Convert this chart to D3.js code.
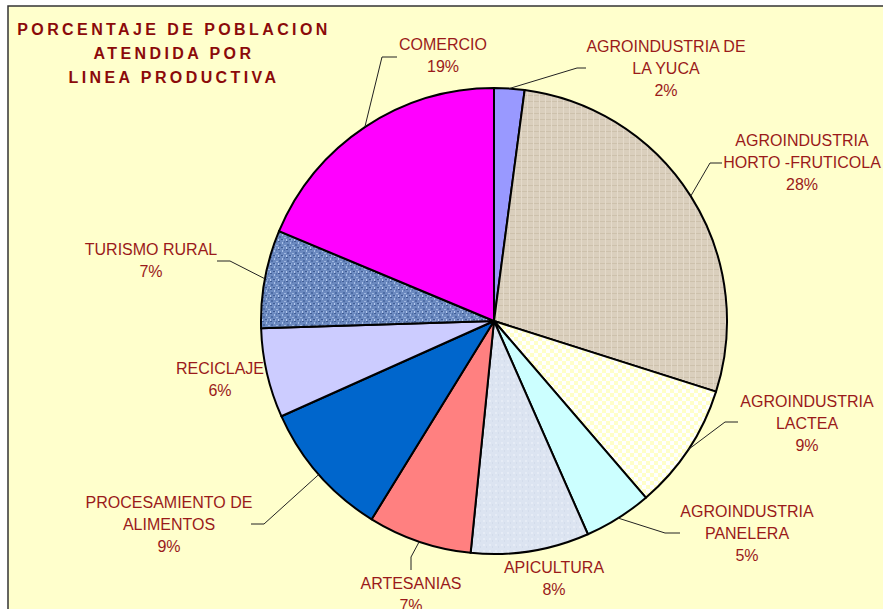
<!DOCTYPE html>
<html>
<head>
<meta http-equiv="Content-Type" content="text/html; charset=UTF-8">
<style>
body { margin: 0; background: #fff; }
svg text { font-family: "Liberation Sans", Arial, sans-serif; }
</style>
</head>
<body>
<div class="container"></div>
<script src="https://cdn.jsdelivr.net/npm/d3@7"></script>
<script>

var width = 883;
var height = 609;

// chart data (clockwise from 12 o'clock)
var categories = [
    ["AGROINDUSTRIA DE", "LA YUCA"],
    ["AGROINDUSTRIA", "HORTO -FRUTICOLA"],
    ["AGROINDUSTRIA", "LACTEA"],
    ["AGROINDUSTRIA", "PANELERA"],
    ["APICULTURA"],
    ["ARTESANIAS"],
    ["PROCESAMIENTO DE", "ALIMENTOS"],
    ["RECICLAJE"],
    ["TURISMO RURAL"],
    ["COMERCIO"]
];
var values = [2.1, 27.8, 8.8, 4.7, 8.2, 7.2, 9.5, 6.2, 6.8, 18.7];
var percentLabels = ["2%", "28%", "9%", "5%", "8%", "7%", "9%", "6%", "7%", "19%"];
var titleLines = ["PORCENTAJE DE POBLACION", "ATENDIDA POR", "LINEA PRODUCTIVA"];

// fills: plain colours or pattern ids
var fills = ["#9999FF", "url(#linen)", "url(#checker)", "#CCFFFF", "url(#frost)",
             "#FF8080", "#0066CC", "#CCCCFF", "url(#denim)", "#FF00FF"];

// label layout: text centre x, first baseline y, optional leader elbow + end
var labelLayout = [
    { x: 666, y: 52, elbow: [577, 68], end: [586, 68] },
    { x: 802, y: 146, elbow: [710, 163], end: [722, 163] },
    { x: 807, y: 407, elbow: [725, 422], end: [738, 422] },
    { x: 747, y: 517, elbow: [665, 533], end: [680, 533] },
    { x: 554, y: 573 },
    { x: 411, y: 589, elbow: [411, 557], end: [411, 570] },
    { x: 169, y: 508, elbow: [264, 524], end: [251, 524] },
    { x: 220, y: 374 },
    { x: 151, y: 255, elbow: [230, 261], end: [217, 261] },
    { x: 443, y: 50, elbow: [382, 57], end: [397, 57] }
];

var cx = 494, cy = 321, radius = 233;
var lineH = 22;
var textColor = "#9A1A1A";

var svg = d3.select(".container")
            .append("svg")
                .attr("width", width)
                .attr("height", height);

// textures
var defs = svg.append("defs");

var checker = defs.append("pattern").attr("id", "checker")
    .attr("width", 8).attr("height", 8).attr("patternUnits", "userSpaceOnUse");
checker.append("rect").attr("width", 8).attr("height", 8).attr("fill", "#FFFFC8");
checker.append("rect").attr("width", 4).attr("height", 4).attr("fill", "#FFFFFF");
checker.append("rect").attr("x", 4).attr("y", 4).attr("width", 4).attr("height", 4).attr("fill", "#FFFFFF");

var linen = defs.append("pattern").attr("id", "linen")
    .attr("width", 6).attr("height", 6).attr("patternUnits", "userSpaceOnUse");
linen.append("rect").attr("width", 6).attr("height", 6).attr("fill", "#DACFBD");
linen.append("rect").attr("y", 2).attr("width", 6).attr("height", 1).attr("fill", "#CDC1AC");
linen.append("rect").attr("x", 3).attr("width", 1).attr("height", 6).attr("fill", "#E4DACA");

var denim = defs.append("pattern").attr("id", "denim")
    .attr("width", 8).attr("height", 8).attr("patternUnits", "userSpaceOnUse");
denim.append("rect").attr("width", 8).attr("height", 8).attr("fill", "#6C8AC0");
[[0, 0, 2, 1, "#3F5C94"], [4, 1, 1, 2, "#A8C0E8"], [1, 3, 2, 2, "#4E6DA6"],
 [6, 4, 2, 1, "#9FB7E0"], [3, 6, 2, 1, "#3F5C94"], [0, 6, 1, 2, "#B5CAEE"],
 [6, 0, 1, 2, "#5674AC"], [5, 6, 1, 2, "#8DA8D6"]].forEach(function(r) {
    denim.append("rect").attr("x", r[0]).attr("y", r[1])
         .attr("width", r[2]).attr("height", r[3]).attr("fill", r[4]);
});

var frost = defs.append("pattern").attr("id", "frost")
    .attr("width", 6).attr("height", 6).attr("patternUnits", "userSpaceOnUse");
frost.append("rect").attr("width", 6).attr("height", 6).attr("fill", "#DCE4F1");
frost.append("rect").attr("x", 1).attr("y", 1).attr("width", 2).attr("height", 2).attr("fill", "#E6ECF6");
frost.append("rect").attr("x", 4).attr("y", 3).attr("width", 1).attr("height", 2).attr("fill", "#D3DCEB");

// chart area
svg.append("rect")
    .attr("x", 8).attr("y", 6)
    .attr("width", width + 20).attr("height", height + 20)
    .attr("fill", "#FFFFCC")
    .attr("stroke", "#333")
    .attr("stroke-width", 1.5);

// title
var title = svg.append("text")
    .attr("text-anchor", "middle")
    .style("font-size", "16px")
    .style("font-weight", "bold")
    .style("letter-spacing", "3.4px")
    .style("fill", "#8B0A0A");
titleLines.forEach(function(t, i) {
    title.append("tspan").attr("x", 174).attr("y", 35 + i * 24).text(t);
});

var pie = d3.pie().sort(null).value(function(d) { return d; })(values);

var arc = d3.arc().innerRadius(0).outerRadius(radius);
var edgeArc = d3.arc().innerRadius(radius).outerRadius(radius);

var g = svg.append("g").attr("transform", "translate(" + cx + "," + cy + ")");

g.selectAll("path.slice")
    .data(pie)
    .enter().append("path")
        .attr("class", "slice")
        .attr("d", arc)
        .attr("fill", function(d, i) { return fills[i]; })
        .attr("stroke", "#000")
        .attr("stroke-width", 2)
        .attr("stroke-linejoin", "round");

// leader lines from the slice's mid point on the rim
pie.forEach(function(d, i) {
    var lay = labelLayout[i];
    if (!lay.elbow) return;
    var p = edgeArc.centroid(d);
    var pts = [[p[0] + cx, p[1] + cy], lay.elbow, lay.end];
    svg.append("polyline")
        .attr("points", pts.map(function(q) { return q.join(","); }).join(" "))
        .attr("fill", "none")
        .attr("stroke", "#222")
        .attr("stroke-width", 1);
});

// labels
pie.forEach(function(d, i) {
    var lay = labelLayout[i];
    var lines = categories[i].concat([percentLabels[i]]);
    var t = svg.append("text")
        .attr("text-anchor", "middle")
        .style("font-size", "16px")
        .style("fill", textColor);
    lines.forEach(function(s, k) {
        t.append("tspan").attr("x", lay.x).attr("y", lay.y + k * lineH).text(s);
    });
});

</script>
</body>
</html>
